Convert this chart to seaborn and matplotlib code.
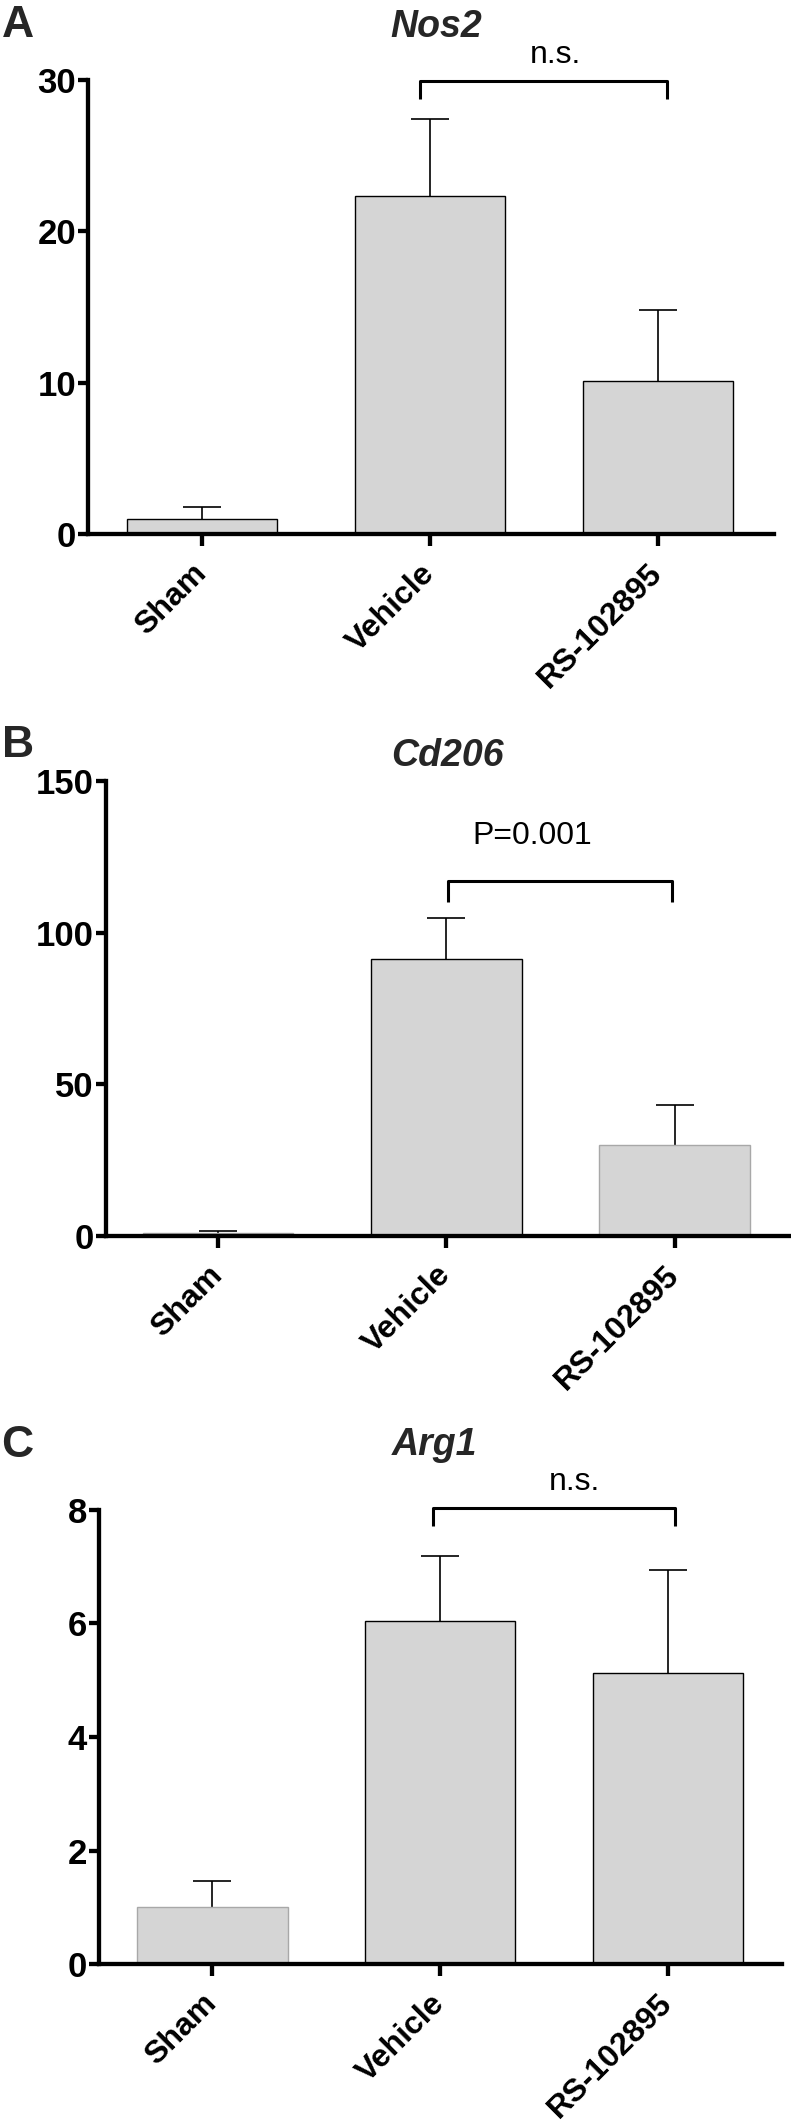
import numpy as np
import pandas as pd
import matplotlib
matplotlib.use("Agg")
import matplotlib.pyplot as plt
import seaborn as sns

# ---------------- data ----------------
categories = ["Sham", "Vehicle", "RS-102895"]

nos2_mean = [1.0, 22.3, 10.1]
nos2_sem = [0.8, 5.1, 4.7]
nos2_ticks = [0, 10, 20, 30]

cd206_mean = [1.0, 91.4, 29.9]
cd206_sem = [0.5, 13.4, 13.4]
cd206_ticks = [0, 50, 100, 150]

arg1_mean = [1.0, 6.05, 5.13]
arg1_sem = [0.46, 1.14, 1.81]
arg1_ticks = [0, 2, 4, 6, 8]

titles = ["Nos2", "Cd206", "Arg1"]
panel_letters = ["A", "B", "C"]
stat_labels = ["n.s.", "P=0.001", "n.s."]

# ---------------- style ----------------
sns.set_theme(style="ticks")
plt.rcParams["font.family"] = ["Liberation Sans", "DejaVu Sans"]

FILL = "#d5d5d5"
panels = [
    dict(mean=nos2_mean, sem=nos2_sem, ticks=nos2_ticks, title=titles[0], letter=panel_letters[0],
         stat=stat_labels[0], rect=[0.1113, 0.7488, 0.8673, 0.2138], xlim=(-0.5, 2.51),
         edges=["black", "black", "black"], bracket=(0.956, 2.04, 28.7, 29.9), stat_xy=(1.55, 31.1),
         title_xy=(0.552, 0.9828), letter_xy=(0.002, 0.9826)),
    dict(mean=cd206_mean, sem=cd206_sem, ticks=cd206_ticks, title=titles[1], letter=panel_letters[1],
         stat=stat_labels[1], rect=[0.1340, 0.4190, 0.8660, 0.2138], xlim=(-0.49, 2.51),
         edges=["#a8a8a8", "black", "#a8a8a8"], bracket=(1.01, 1.99, 110.2, 117.1), stat_xy=(1.375, 129.3),
         title_xy=(0.566, 0.6399), letter_xy=(0.002, 0.6441)),
    dict(mean=arg1_mean, sem=arg1_sem, ticks=arg1_ticks, title=titles[2], letter=panel_letters[2],
         stat=stat_labels[2], rect=[0.1252, 0.0766, 0.8635, 0.2135], xlim=(-0.497, 2.50),
         edges=["#a8a8a8", "black", "black"], bracket=(0.97, 2.03, 7.71, 8.03), stat_xy=(1.59, 8.35),
         title_xy=(0.549, 0.3159), letter_xy=(0.002, 0.3150)),
]

fig = plt.figure(figsize=(7.91, 21.27), dpi=100)

for p in panels:
    ax = fig.add_axes(p["rect"])
    df = pd.DataFrame({"group": categories, "value": p["mean"]})
    sns.barplot(data=df, x="group", y="value", ax=ax, color=FILL, saturation=1,
                width=0.66, errorbar=None, linewidth=1.0, edgecolor="black", zorder=1)
    for patch, ec in zip(ax.patches, p["edges"]):
        patch.set_facecolor(FILL)
        patch.set_edgecolor(ec)

    x = np.arange(len(categories))
    mean = np.asarray(p["mean"])
    sem = np.asarray(p["sem"])
    eb = ax.errorbar(x, mean, yerr=[np.zeros_like(sem), sem], fmt="none", ecolor="black",
                     elinewidth=1.2, capsize=13.4, capthick=1.2, zorder=0.8)
    caps = eb[1]
    if len(caps) == 2:
        caps[0].set_visible(False)

    ax.set_xlim(*p["xlim"])
    ax.set_ylim(p["ticks"][0], p["ticks"][-1])
    ax.set_yticks(p["ticks"])
    ax.set_yticklabels([str(t) for t in p["ticks"]], fontsize=25, fontweight="bold")
    ax.set_xticks(x)
    ax.set_xticklabels(categories, rotation=45, ha="right", va="center",
                       rotation_mode="anchor", fontsize=23, fontweight="bold")
    ax.set_xlabel("")
    ax.set_ylabel("")
    for s in ["top", "right"]:
        ax.spines[s].set_visible(False)
    for s in ["left", "bottom"]:
        ax.spines[s].set_linewidth(3.1)
        ax.spines[s].set_color("black")
        ax.spines[s].set_capstyle("projecting")
    ax.tick_params(axis="x", length=8.6, width=3.1, pad=16.5, colors="black")
    ax.tick_params(axis="y", length=7.2, width=3.1, pad=1.5, colors="black")
    ax.set_facecolor("white")

    x1, x2, yl, yt = p["bracket"]
    ax.plot([x1, x1, x2, x2], [yl, yt, yt, yl], color="black", lw=2.2,
            solid_joinstyle="round", solid_capstyle="butt", clip_on=False)
    ax.text(p["stat_xy"][0], p["stat_xy"][1], p["stat"], ha="center", va="baseline",
            fontsize=23, color="black", clip_on=False)

    fig.text(p["title_xy"][0], p["title_xy"][1], p["title"], ha="center", va="baseline",
             fontsize=27, fontweight="bold", fontstyle="italic")
    fig.text(p["letter_xy"][0], p["letter_xy"][1], p["letter"], ha="left", va="baseline",
             fontsize=32, fontweight="bold")

fig.savefig("out.png", dpi=100, facecolor="white")
